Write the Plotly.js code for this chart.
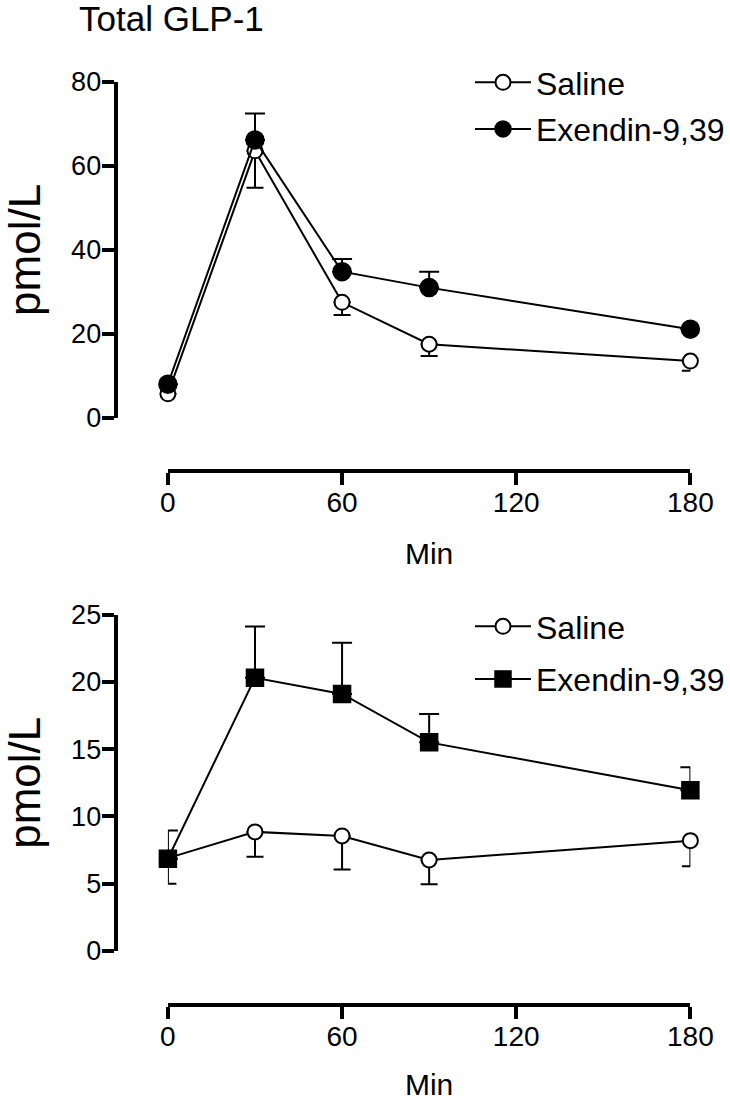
<!DOCTYPE html>
<html>
<head>
<meta charset="utf-8">
<script src="https://cdn.plot.ly/plotly-3.0.1.min.js"></script>
<style>html,body{margin:0;padding:0;background:#fff;overflow:hidden;}</style>
</head>
<body>
<div id="chart" style="width:730px;height:1101px;"></div>
<script>
// ---- data ----
var minutes = [0, 30, 60, 90, 180];
var xTicks = [0, 60, 120, 180];
var seriesNames = ['Saline', 'Exendin-9,39'];

// Top panel: Total GLP-1 (pmol/L)
var topSaline = [5.7, 63.6, 27.5, 17.5, 13.5];
var topSalineErrDown = [0, 8.8, 3.0, 2.8, 2.3];
var topExendin = [8.0, 66.2, 34.8, 31.0, 21.1];
var topExendinErrUp = [0, 6.3, 3.0, 3.8, 0];

// Bottom panel (pmol/L)
var botSaline = [6.9, 8.85, 8.55, 6.76, 8.2];
var botSalineErrDown = [1.9, 1.85, 2.5, 1.8, 1.9];
var botExendin = [6.85, 20.3, 19.1, 15.5, 11.95];
var botExendinErrUp = [2.1, 3.8, 3.8, 2.1, 1.7];

var zeros = minutes.map(function(){return 0;});

var W = 730, H = 1101;
function px(x){return x / W;}
function py(y){return 1 - y / H;}

function salineTrace(y, errDown, xa, ya, leg){
  return {
    x: minutes, y: y, name: seriesNames[0], xaxis: xa, yaxis: ya, legend: leg,
    legendgroup: leg + 'a',
    type: 'scatter', mode: 'lines+markers', cliponaxis: false,
    line: {color: 'black', width: 2},
    marker: {symbol: 'circle', size: 15, color: 'white', line: {color: 'black', width: 2}},
    error_y: {type: 'data', symmetric: false, array: zeros, arrayminus: errDown,
              color: 'black', thickness: 2, width: 8.5}
  };
}
function exendinTrace(y, errUp, xa, ya, leg, sym){
  return {
    x: minutes, y: y, name: seriesNames[1], xaxis: xa, yaxis: ya, legend: leg,
    legendgroup: leg + 'b',
    type: 'scatter', mode: 'lines+markers', cliponaxis: false,
    line: {color: 'black', width: 2},
    marker: {symbol: sym, size: sym === 'square' ? 17 : 18, color: 'black', line: {color: 'black', width: 1.5}},
    error_y: {type: 'data', symmetric: false, array: errUp, arrayminus: zeros,
              color: 'black', thickness: 2, width: 10}
  };
}

var data = [
  salineTrace(topSaline, topSalineErrDown, 'x', 'y', 'legend'),
  exendinTrace(topExendin, topExendinErrUp, 'x', 'y', 'legend', 'circle'),
  salineTrace(botSaline, botSalineErrDown, 'x2', 'y2', 'legend2'),
  exendinTrace(botExendin, botExendinErrUp, 'x2', 'y2', 'legend2', 'square')
];

var fontFam = 'Liberation Sans, Arial, Helvetica, sans-serif';
var xDomain = [px(170), px(699)];

function xAxis(pos){
  return {
    domain: xDomain, range: [0, 180], anchor: 'free', position: pos,
    tickmode: 'array', tickvals: xTicks, ticktext: xTicks.map(String),
    ticks: 'outside', ticklen: 12, tickwidth: 4, tickcolor: 'black',
    ticklabelstandoff: -6,
    showline: true, linewidth: 4, linecolor: 'black',
    showgrid: false, zeroline: false, fixedrange: true,
    tickfont: {size: 28, color: 'black', family: fontFam},
    title: {text: 'Min', font: {size: 30, color: 'black', family: fontFam}, standoff: 25}
  };
}
function yAxis(dom, range, dtick, pos){
  return {
    domain: dom, range: range, anchor: 'free', position: pos,
    tick0: 0, dtick: dtick,
    ticks: 'outside', ticklen: 12, tickwidth: 4, tickcolor: 'black',
    ticklabelstandoff: -5,
    showline: true, linewidth: 4, linecolor: 'black',
    showgrid: false, zeroline: false, fixedrange: true,
    tickfont: {size: 27, color: 'black', family: fontFam},
    title: {text: 'pmol/L', font: {size: 44, color: 'black', family: fontFam}, standoff: 24}
  };
}

var legendCommon = {
  xanchor: 'left', yanchor: 'top', bgcolor: 'rgba(0,0,0,0)', borderwidth: 0,
  font: {size: 32, color: 'black', family: fontFam},
  itemwidth: 56, traceorder: 'grouped', itemclick: false, itemdoubleclick: false
};

var layout = {
  width: W, height: H,
  margin: {l: 0, r: 0, t: 0, b: 0},
  paper_bgcolor: 'white', plot_bgcolor: 'white',
  font: {family: fontFam, color: 'black'},
  showlegend: true,
  title: {text: 'Total GLP-1', font: {size: 35, color: 'black', family: fontFam},
          x: px(80), xref: 'paper', xanchor: 'left', y: py(19), yref: 'paper', yanchor: 'middle'},
  xaxis: xAxis(py(470.5)),
  yaxis: yAxis([py(417.7), py(82)], [0, 80], 20, px(117)),
  xaxis2: xAxis(py(1004.5)),
  yaxis2: yAxis([py(951), py(614.5)], [0, 25], 5, px(117)),
  legend: Object.assign({}, legendCommon, {x: px(476), y: py(55), tracegroupgap: 2}),
  legend2: Object.assign({}, legendCommon, {x: px(476), y: py(599), tracegroupgap: 8})
};

Plotly.newPlot('chart', data, layout, {displayModeBar: false, staticPlot: true});
</script>
</body>
</html>
